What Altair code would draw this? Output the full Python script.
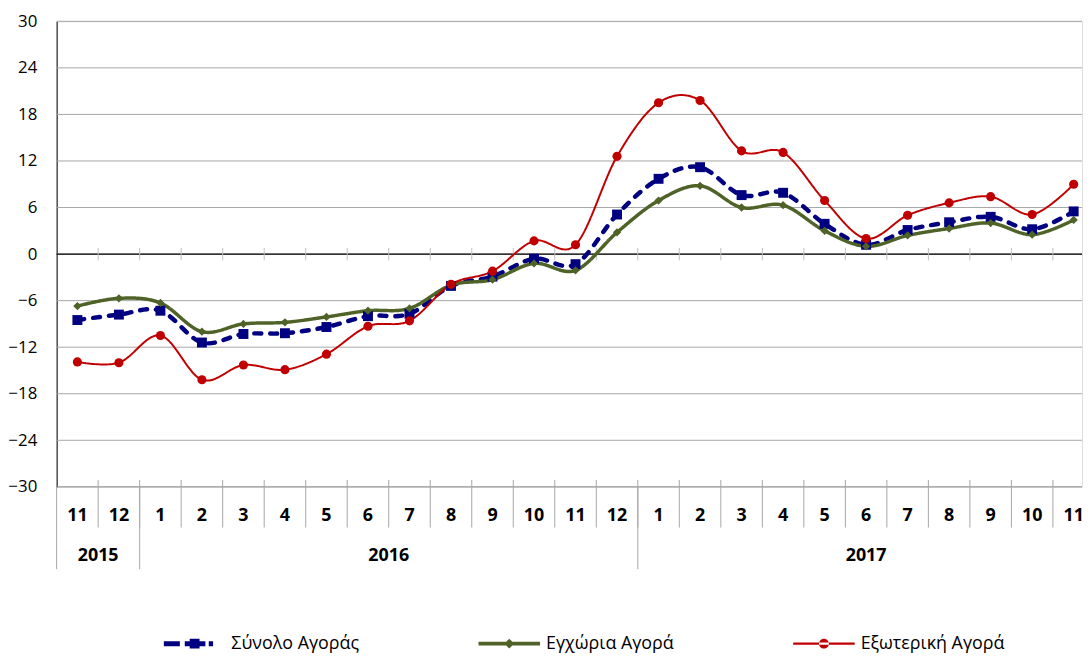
import altair as alt
import pandas as pd

# ---- data ----
months = [11, 12, 1, 2, 3, 4, 5, 6, 7, 8, 9, 10, 11, 12, 1, 2, 3, 4, 5, 6, 7, 8, 9, 10, 11]
years = [2015, 2015] + [2016] * 12 + [2017] * 11
series_names = ["Σύνολο Αγοράς", "Εγχώρια Αγορά", "Εξωτερική Αγορά"]
total = [-8.5, -7.8, -7.3, -11.4, -10.3, -10.2, -9.4, -8.0, -7.7, -4.1, -2.9, -0.6, -1.3,
         5.1, 9.7, 11.2, 7.6, 7.9, 3.9, 1.2, 3.1, 4.1, 4.8, 3.2, 5.5]
domestic = [-6.7, -5.7, -6.3, -10.0, -9.0, -8.8, -8.1, -7.3, -7.0, -4.0, -3.3, -1.2, -2.1,
            2.8, 6.9, 8.8, 6.0, 6.3, 3.0, 1.0, 2.4, 3.3, 4.0, 2.5, 4.4]
foreign = [-13.9, -14.0, -10.5, -16.2, -14.3, -14.9, -12.9, -9.3, -8.6, -3.9, -2.2, 1.7, 1.2,
           12.6, 19.5, 19.8, 13.3, 13.1, 6.9, 2.0, 5.0, 6.6, 7.4, 5.1, 9.0]
y_ticks = list(range(-30, 31, 6))

colors = ["#000080", "#4F6228", "#C00000"]
FONT = "'Open Sans', 'DejaVu Sans', sans-serif"

n = len(months)
idx = list(range(n))
rows = []
for name, vals in zip(series_names, [total, domestic, foreign]):
    for i, v in zip(idx, vals):
        rows.append({"i": i, "series": name, "value": v})
df = pd.DataFrame(rows)

cat = pd.DataFrame({"i": idx, "month": [str(m) for m in months], "year": years})
bounds = pd.DataFrame({"b": [i + 0.5 for i in range(-1, n)]})
bounds["yearsep"] = [b == -0.5 or (int(b + 0.5) < n and years[int(b + 0.5)] != years[int(b - 0.5)])
                     for b in bounds["b"]]
year_df = cat.groupby("year", as_index=False)["i"].mean()
year_df["label"] = year_df["year"].astype(str)

BAND = 41.82
W, H = 1033, 469
xscale = alt.Scale(domain=[-0.5, -0.5 + W / BAND], nice=False, zero=False)
yscale = alt.Scale(domain=[-30, 30], nice=False)
X = alt.X("i:Q", scale=xscale, axis=None)

base = alt.Chart(df)

# grid / axes
grid = alt.Chart(pd.DataFrame({"v": y_ticks[1:-1]})).mark_rule(color="#a6a6a6", strokeWidth=1).encode(
    y=alt.Y("v:Q", scale=yscale,
            axis=alt.Axis(values=y_ticks, grid=False, ticks=False, domain=True, domainColor="black",
                          labelPadding=20, labelFontSize=17, labelFont=FONT, labelColor="black",
                          title=None))
)
top_rule = alt.Chart(pd.DataFrame({"v": [30]})).mark_rule(color="#a6a6a6").encode(y=alt.Y("v:Q", scale=yscale))
bottom_rule = alt.Chart(pd.DataFrame({"v": [-30]})).mark_rule(color="#868686").encode(y=alt.Y("v:Q", scale=yscale))
zero_rule = alt.Chart(pd.DataFrame({"v": [0]})).mark_rule(color="black", strokeWidth=1.2).encode(y=alt.Y("v:Q", scale=yscale))

zero_ticks = alt.Chart(bounds).transform_filter("datum.b > 0").mark_rule(color="#bfbfbf", strokeWidth=1).encode(
    x=alt.X("b:Q", scale=xscale, axis=None),
    y=alt.datum(-0.8, scale=yscale), y2=alt.datum(0.8)
)

month_sep = alt.Chart(bounds).transform_filter("datum.b > 0").mark_rule(color="#a6a6a6").encode(
    x=alt.X("b:Q", scale=xscale, axis=None), y=alt.value(H - 7), y2=alt.value(H + 41)
)
year_sep = alt.Chart(bounds).transform_filter("datum.yearsep").mark_rule(color="#a6a6a6").encode(
    x=alt.X("b:Q", scale=xscale, axis=None), y=alt.value(H), y2=alt.value(H + 83)
)
month_text = alt.Chart(cat).mark_text(fontSize=18, fontWeight="bold", font=FONT, baseline="middle",
                                      color="black").encode(
    x=alt.X("i:Q", scale=xscale, axis=None), y=alt.value(H + 29), text="month:N"
)
year_text = alt.Chart(year_df).mark_text(fontSize=18, fontWeight="bold", font=FONT, baseline="middle",
                                         color="black").encode(
    x=alt.X("i:Q", scale=xscale, axis=None), y=alt.value(H + 70), text="label:N"
)

layers = [grid, top_rule, bottom_rule, zero_rule, zero_ticks, month_sep, year_sep, month_text, year_text]

styles = [
    dict(width=4.5, dash=[7, 9], cap="round", shape="square", size=100),
    dict(width=3.5, dash=[1, 0], cap="butt", shape="diamond", size=70),
    dict(width=2, dash=[1, 0], cap="butt", shape="circle", size=85),
]
for name, col, st in zip(series_names, colors, styles):
    sub = base.transform_filter(alt.datum.series == name)
    line = sub.mark_line(color=col, strokeWidth=st["width"], strokeDash=st["dash"], strokeCap=st["cap"],
                         interpolate="cardinal").encode(x=X, y=alt.Y("value:Q", scale=yscale))
    layers.append(line)
for name, col, st in zip(series_names, colors, styles):
    sub = base.transform_filter(alt.datum.series == name)
    pts = sub.mark_point(filled=True, color=col, shape=st["shape"], size=st["size"], opacity=1).encode(
        x=X, y=alt.Y("value:Q", scale=yscale))
    layers.append(pts)

# legend (symbols built as paths)
legend_paths = [
    "M-1,-0.08L-0.48,-0.08L-0.48,0.08L-1,0.08Z"
    "M-0.32,-0.08L-0.16,-0.08L-0.16,-0.16L0.16,-0.16L0.16,-0.08L0.35,-0.08L0.35,0.08L0.16,0.08"
    "L0.16,0.16L-0.16,0.16L-0.16,0.08L-0.32,0.08Z"
    "M0.46,-0.08L0.6,-0.08L0.6,0.08L0.46,0.08Z",
    "M-1,-0.06L-0.1,-0.06L0,-0.16L0.1,-0.06L1,-0.06L1,0.06L0.1,0.06L0,0.16L-0.1,0.06L-1,0.06Z",
    "M-1,-0.035L1,-0.035L1,0.035L-1,0.035Z"
    "M-0.16,0A0.16,0.16 0 1,0 0.16,0A0.16,0.16 0 1,0 -0.16,0Z",
]
legend = alt.Legend(orient="none", legendX=108, legendY=596, direction="horizontal", columns=3,
                    gridAlign="all", columnPadding=104, symbolSize=3844, labelFontSize=18,
                    labelFont=FONT, labelColor="black", labelOffset=6, title=None,
                    symbolStrokeWidth=0, symbolOpacity=1, padding=0)
dummy = base.transform_filter("false").mark_point(filled=True, opacity=1).encode(
    x=X, y=alt.Y("value:Q", scale=yscale),
    color=alt.Color("series:N", scale=alt.Scale(domain=series_names, range=colors), legend=legend),
    shape=alt.Shape("series:N", scale=alt.Scale(domain=series_names, range=legend_paths), legend=legend),
)
layers.append(dummy)

chart = alt.layer(*layers).properties(
    width=W, height=H,
    padding={"left": 49, "top": 11, "right": 2, "bottom": 168},
    autosize=alt.AutoSizeParams(type="none"),
).configure_view(stroke=None).configure(background="white")

chart.save("out.html", embed_options={"renderer": "svg", "actions": False})
